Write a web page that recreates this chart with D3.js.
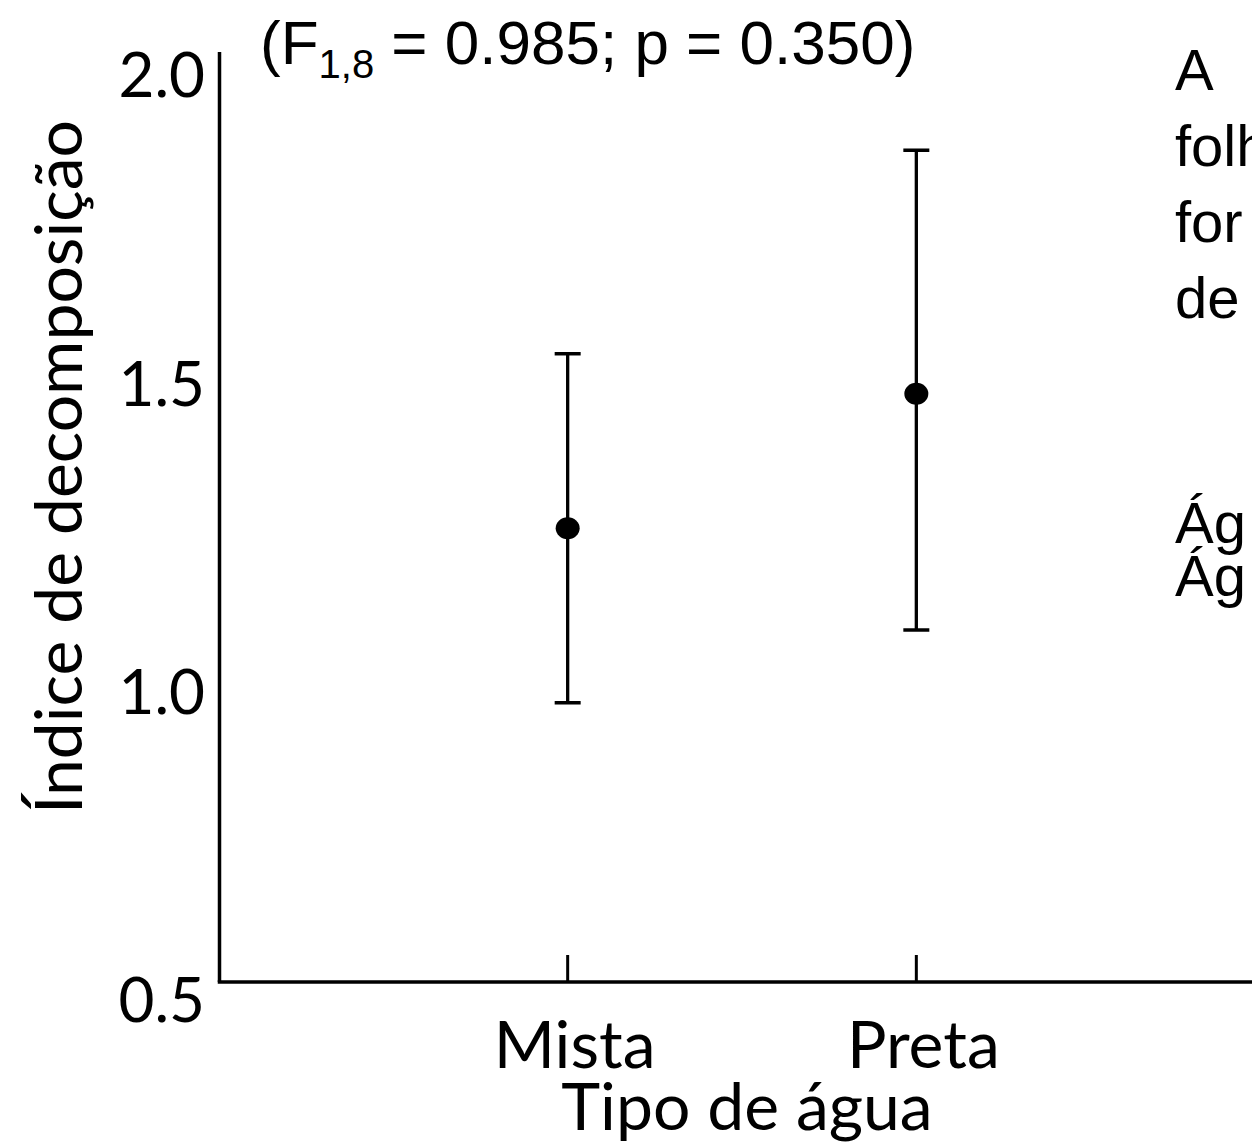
<!DOCTYPE html>
<html>
<head>
<meta charset="utf-8">
<script src="https://cdn.jsdelivr.net/npm/d3@7"></script>
<style>
  body { margin: 0; background: #fff; }
  svg { display: block; }
  .eje text { font-family: Lato, "Open Sans", sans-serif; fill: #000; }
</style>
</head>
<body>
<div id="graf"></div>
<script>
const anchoTotal = 1252
const altoTotal = 1146

// Data
const tipos = ["Mista", "Preta"]
const medias = [1.265, 1.483]
const superior = [1.548, 1.878]
const inferior = [0.982, 1.100]
const yTicks = [0.5, 1.0, 1.5, 2.0]
const estadistico = ["(F", "1,8", " = 0.985; p = 0.350)"]
const textoDerecha = ["A", "folh", "for", "de", "", "", "Ág", "Ág"]

const data = tipos.map((t, i) => ({
  tipo: t,
  media: medias[i],
  sup: superior[i],
  inf: inferior[i]
}))

const svg = d3
  .select("#graf")
  .append("svg")
  .attr("width", anchoTotal)
  .attr("height", altoTotal)

// Escaladores
const y = d3.scaleLinear().domain([0.5, 2.0]).range([1000, 75])
const x = d3.scalePoint().domain(tipos).range([219, 1265]).padding(1)

const base = y(0.5) - 18
const izq = 219.5

// Ejes
svg
  .append("line")
  .attr("x1", izq)
  .attr("x2", izq)
  .attr("y1", 52)
  .attr("y2", base)
  .attr("stroke", "#000")
  .attr("stroke-width", 3.5)

svg
  .append("line")
  .attr("x1", izq - 1.75)
  .attr("x2", anchoTotal)
  .attr("y1", base)
  .attr("y2", base)
  .attr("stroke", "#000")
  .attr("stroke-width", 3.5)

const gY = svg.append("g").attr("class", "eje")
gY.selectAll("text")
  .data(yTicks)
  .join("text")
  .attr("x", 205)
  .attr("y", (d) => y(d))
  .attr("dy", "0.36em")
  .attr("text-anchor", "end")
  .attr("font-size", 62)
  .text((d) => d3.format(".1f")(d))

const gX = svg.append("g").attr("class", "eje")
gX.selectAll("line")
  .data(tipos)
  .join("line")
  .attr("x1", (d) => x(d))
  .attr("x2", (d) => x(d))
  .attr("y1", base)
  .attr("y2", base - 27)
  .attr("stroke", "#000")
  .attr("stroke-width", 3)

gX.selectAll("text")
  .data(tipos)
  .join("text")
  .attr("x", (d) => x(d) + 7)
  .attr("y", 1068)
  .attr("text-anchor", "middle")
  .attr("font-size", 66)
  .text((d) => d)

gX.append("text")
  .attr("x", 747)
  .attr("y", 1130)
  .attr("text-anchor", "middle")
  .attr("font-size", 66)
  .text("Tipo de água")

gY.append("text")
  .attr("transform", "translate(82, 467) rotate(-90)")
  .attr("text-anchor", "middle")
  .attr("font-size", 66)
  .text("Índice de decomposição")

// Barras de error
const g = svg.append("g")
g.selectAll(".barra")
  .data(data)
  .join("line")
  .attr("class", "barra")
  .attr("x1", (d) => x(d.tipo))
  .attr("x2", (d) => x(d.tipo))
  .attr("y1", (d) => y(d.sup))
  .attr("y2", (d) => y(d.inf))
  .attr("stroke", "#000")
  .attr("stroke-width", 3.3)

g.selectAll(".tapa")
  .data(data.flatMap((d) => [{ tipo: d.tipo, v: d.sup }, { tipo: d.tipo, v: d.inf }]))
  .join("line")
  .attr("class", "tapa")
  .attr("x1", (d) => x(d.tipo) - 13)
  .attr("x2", (d) => x(d.tipo) + 13)
  .attr("y1", (d) => y(d.v))
  .attr("y2", (d) => y(d.v))
  .attr("stroke", "#000")
  .attr("stroke-width", 3.5)

g.selectAll("ellipse")
  .data(data)
  .join("ellipse")
  .attr("cx", (d) => x(d.tipo))
  .attr("cy", (d) => y(d.media))
  .attr("rx", 12)
  .attr("ry", 11)
  .attr("fill", "#000")

// Texto estadistico
const est = svg
  .append("text")
  .attr("x", 260)
  .attr("y", 64)
  .attr("font-family", "'Liberation Sans', Arial, sans-serif")
  .attr("font-size", 62)
est.append("tspan").text(estadistico[0])
est.append("tspan").attr("font-size", 40).attr("dy", 14).text(estadistico[1])
est.append("tspan").attr("dy", -14).text(estadistico[2])

// Texto cortado a la derecha
svg
  .append("g")
  .selectAll("text")
  .data(textoDerecha)
  .join("text")
  .attr("x", 1175)
  .attr("y", (d, i) => (i < 6 ? 90 + i * 76 : 543 + (i - 6) * 53))
  .attr("font-family", "'Liberation Sans', Arial, sans-serif")
  .attr("font-size", 58)
  .text((d) => d)
</script>
</body>
</html>
